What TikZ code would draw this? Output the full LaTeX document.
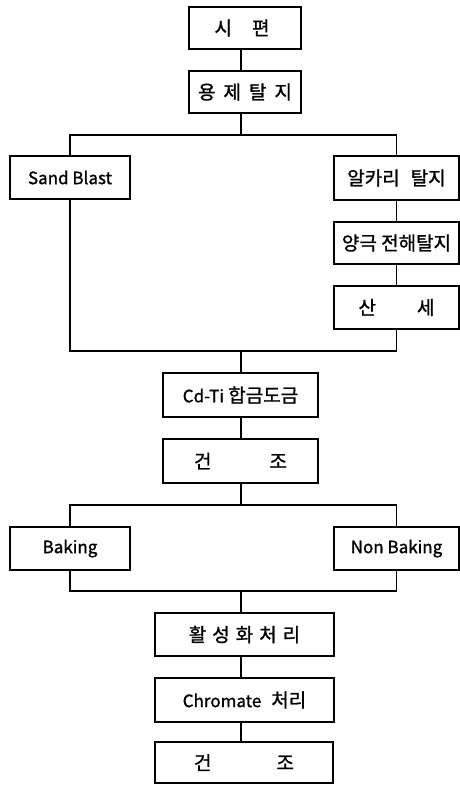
\documentclass[tikz,border=0pt]{standalone}
\usepackage{fontspec}
\setmainfont{Noto Sans CJK KR}[FakeBold=1.2]
\newcommand{\latn}[1]{{\fontsize{17}{20}\selectfont #1}}
\begin{document}
\begin{tikzpicture}[x=1pt,y=-1pt,
  stepbox/.style={draw, line width=1.3pt, inner sep=0pt, align=center,
    font=\fontsize{19}{22}\selectfont},
  conn/.style={line width=1.3pt}]
\useasboundingbox (0,0) rectangle (460,785);
% nodes
\node[stepbox, minimum width=112pt, minimum height=42pt] (s1) at (245,28) {\hspace*{-6pt}시\hspace{20pt}편};
\node[stepbox, minimum width=112pt, minimum height=42pt] (s2) at (245,92) {용\hspace{8pt}제\hspace{8pt}탈\hspace{8pt}지};
\node[stepbox, minimum width=120pt, minimum height=43pt] (sb) at (70,177.5) {\latn{Sand Blast}};
\node[stepbox, minimum width=125pt, minimum height=44pt] (ak) at (396.5,178) {알카리\hspace{11pt}탈지};
\node[stepbox, minimum width=125pt, minimum height=42pt] (yg) at (396.5,243) {양극 전해탈지};
\node[stepbox, minimum width=125pt, minimum height=43pt] (ss) at (396.5,307.5) {산\hspace{41pt}세};
\node[stepbox, minimum width=155pt, minimum height=44pt] (cd) at (240.5,395) {\latn{Cd-Ti} 합금도금};
\node[stepbox, minimum width=155pt, minimum height=44pt] (gj1) at (240.5,461) {건\hspace{58pt}조};
\node[stepbox, minimum width=120pt, minimum height=43pt] (bk) at (70,548.5) {\latn{Baking}};
\node[stepbox, minimum width=125pt, minimum height=43pt] (nb) at (396.5,548.5) {\latn{Non Baking}};
\node[stepbox, minimum width=179pt, minimum height=43pt] (hs) at (244.5,634.5) {활\hspace{6pt}성\hspace{6pt}화\hspace{6pt}처\hspace{6pt}리};
\node[stepbox, minimum width=179pt, minimum height=44pt] (ch) at (244.5,700) {\latn{Chromate}\hspace{10pt}처리};
\node[stepbox, minimum width=178pt, minimum height=41pt] (gj2) at (244,762.5) {건\hspace{65pt}조};
% junctions
\coordinate (j1) at (241,135);
\coordinate (j2) at (241,351);
\coordinate (j3) at (241,505);
\coordinate (j4) at (241,591);
% connectors
\draw[conn] (s1.south -| j1) -- (s2.north -| j1);
\draw[conn] (s2.south -| j1) -- (j1);
\draw[conn] (sb.north) -- (sb.north |- j1) -- (ak.north |- j1) -- (ak.north);
\draw[conn] (ak.south) -- (yg.north);
\draw[conn] (yg.south) -- (ss.north);
\draw[conn] (sb.south) -- (sb.south |- j2) -- (ss.south |- j2) -- (ss.south);
\draw[conn] (j2) -- (cd.north -| j2);
\draw[conn] (cd.south -| j2) -- (gj1.north -| j2);
\draw[conn] (gj1.south -| j3) -- (j3);
\draw[conn] (bk.north) -- (bk.north |- j3) -- (nb.north |- j3) -- (nb.north);
\draw[conn] (bk.south) -- (bk.south |- j4) -- (nb.south |- j4) -- (nb.south);
\draw[conn] (j4) -- (hs.north -| j4);
\draw[conn] (hs.south -| j4) -- (ch.north -| j4);
\draw[conn] (ch.south -| j4) -- (gj2.north -| j4);
\end{tikzpicture}
\end{document}
